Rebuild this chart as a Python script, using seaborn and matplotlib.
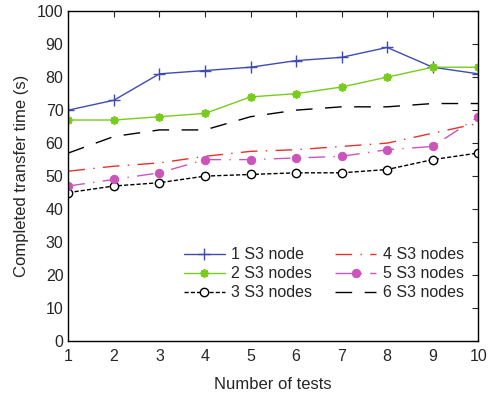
import matplotlib
matplotlib.use("Agg")
import matplotlib.pyplot as plt
import seaborn as sns
import pandas as pd

tests = [1, 2, 3, 4, 5, 6, 7, 8, 9, 10]
s1 = [70, 73, 81, 82, 83, 85, 86, 89, 83, 81]
s2 = [67, 67, 68, 69, 74, 75, 77, 80, 83, 83]
s3 = [45, 47, 48, 50, 50.5, 51, 51, 52, 55, 57]
s4 = [51.5, 53, 54, 56, 57.5, 58, 59, 60, 63, 66]
s5 = [47, 49, 51, 55, 55, 55.5, 56, 58, 59, 68]
s6 = [57, 62, 64, 64, 68, 70, 71, 71, 72, 72]
labels = ["1 S3 node", "2 S3 nodes", "3 S3 nodes", "4 S3 nodes", "5 S3 nodes", "6 S3 nodes"]

sns.set_style("white")
plt.rcParams['font.family'] = ['Liberation Sans', 'DejaVu Sans']

fig, ax = plt.subplots(figsize=(4.88, 3.98), dpi=100)
fig.subplots_adjust(left=0.14, right=0.98, bottom=0.143, top=0.972)

styles = [
    dict(color="#3f4bb0", linestyle="-", marker="+", markersize=8, mew=1.0, mfc="none"),
    dict(color="#77cc1a", linestyle="-", marker=(8, 2, 0), markersize=6, mew=1.3),
    dict(color="black", linestyle=(0, (3, 1.5)), marker="o", markersize=6, mfc="white", mew=1.0),
    dict(color="#e8312a", linestyle=(0, (12, 6, 1, 6)), marker=None),
    dict(color="#cc55bb", linestyle=(0, (12, 6, 1, 6)), marker="o", markersize=6, mfc="#cc55bb"),
    dict(color="black", linestyle=(0, (12, 9)), marker=None),
]

for data, lab, st in zip([s1, s2, s3, s4, s5, s6], labels, styles):
    df = pd.DataFrame({"x": tests, "y": data})
    st = dict(st)
    color = st.pop("color")
    ls = st.pop("linestyle")
    marker = st.pop("marker")
    sns.lineplot(data=df, x="x", y="y", ax=ax, color=color, linestyle=ls,
                 marker=marker if marker else "", label=lab, linewidth=1.0,
                 markeredgecolor=color if marker != "o" or lab.startswith("5") else "black",
                 **st)

ax.set_xlim(1, 10)
ax.set_ylim(0, 100)
ax.set_xticks(tests)
ax.set_yticks(range(0, 101, 10))
ax.set_xlabel("Number of tests", fontsize=12, labelpad=9)
ax.set_ylabel("Completed transfer time (s)", fontsize=12, labelpad=6)
ax.tick_params(axis="both", labelsize=11.5, direction="in", top=True, right=True, length=4, width=0.8)
ax.tick_params(axis="x", pad=6)
for sp in ax.spines.values():
    sp.set_visible(True)
    sp.set_color("black")
    sp.set_linewidth(1.0)

ax.legend(ncol=2, frameon=False, loc="lower right", bbox_to_anchor=(1.0, 0.08),
          fontsize=11.5, handlelength=2.6, columnspacing=1.4, handletextpad=0.4,
          labelspacing=0.25)

fig.savefig("out.png", dpi=100)
